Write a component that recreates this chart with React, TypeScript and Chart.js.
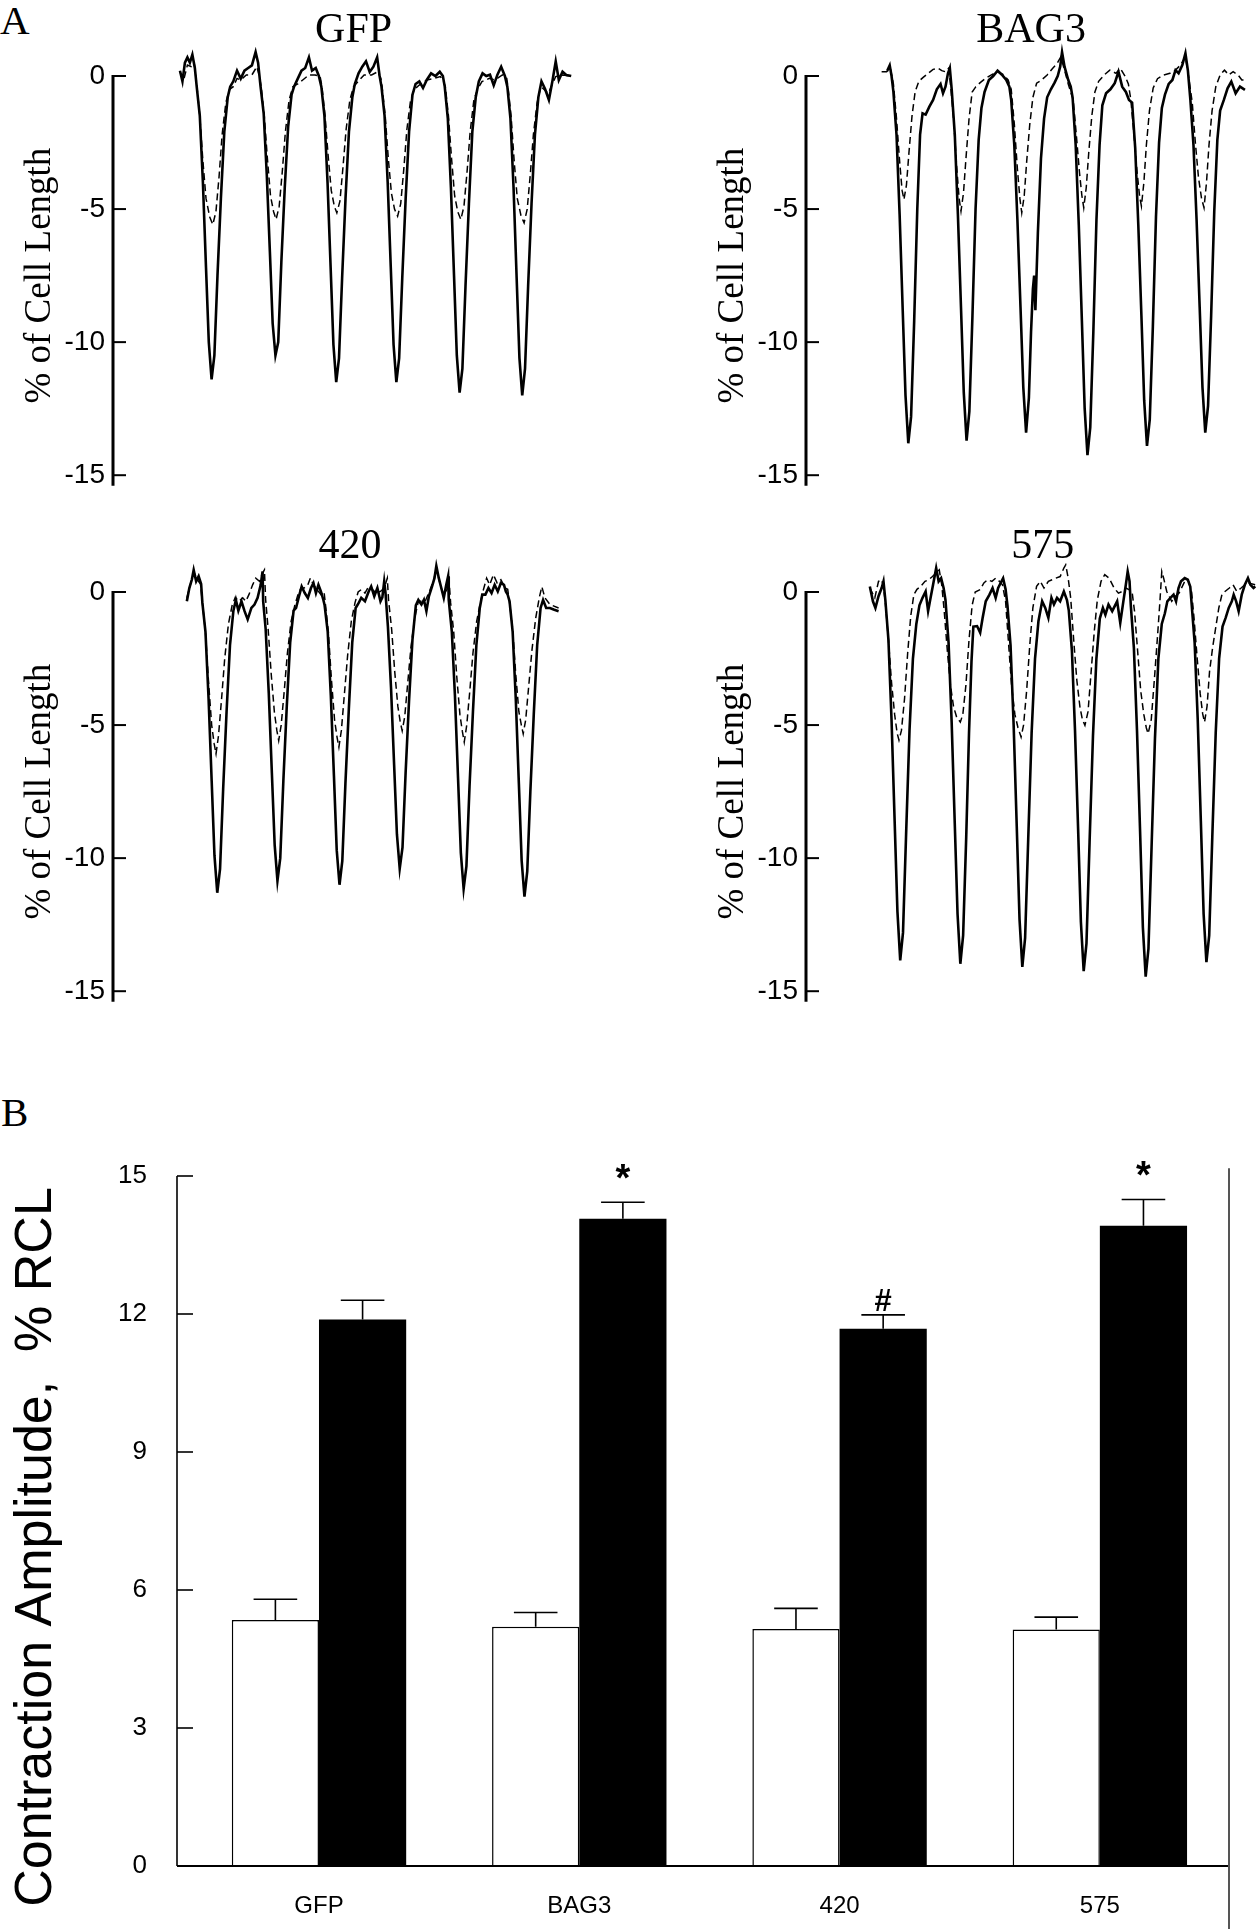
import React, { useEffect, useRef } from 'react';
import { Chart, registerables } from 'chart.js';

Chart.register(...registerables);
Chart.defaults.color = '#000';
Chart.defaults.font.family = 'Liberation Sans';

type Pair = [number, number];

// ---------------- Panel A : cell shortening traces [time (s), % of cell length] ----------------
const gfpSolid: Pair[] = [[0,0.2],[0.04,-0.2],[0.08,0.5],[0.12,0.7],[0.16,0.5],[0.2,0.8],[0.24,0.3],
[0.27,-0.4],[0.32,-1.5],[0.37,-4.0],[0.42,-7.2],[0.465,-10.0],[0.51,-11.4],[0.555,-10.5],[0.605,-7.5],[0.66,-4.6],[0.715,-2.1],[0.77,-0.8],[0.81,-0.4],
[0.86,-0.2],[0.92,0.2],[0.98,-0.1],[1.04,0.2],[1.1,0.3],[1.16,0.4],[1.22,0.9],[1.26,0.5],
[1.3,-0.4],[1.35,-1.4],[1.4,-3.7],[1.45,-6.6],[1.495,-9.3],[1.54,-10.5],[1.585,-10.0],[1.635,-7.0],[1.69,-4.2],[1.745,-1.9],[1.8,-0.7],[1.84,-0.4],
[1.9,-0.1],[1.96,0.2],[2.02,0.3],[2.08,0.7],[2.13,0.2],[2.19,0.3],[2.24,0.0],
[2.28,-0.4],[2.33,-1.5],[2.38,-4.0],[2.43,-7.2],[2.475,-10.1],[2.52,-11.5],[2.565,-10.6],[2.615,-7.6],[2.67,-4.6],[2.725,-2.1],[2.78,-0.8],[2.82,-0.3],
[2.88,0.1],[2.94,0.35],[3.0,0.55],[3.06,0.15],[3.12,0.35],[3.18,0.7],[3.22,0.0],
[3.25,-0.4],[3.3,-1.5],[3.35,-4.0],[3.4,-7.2],[3.445,-10.1],[3.49,-11.5],[3.535,-10.6],[3.585,-7.6],[3.64,-4.6],[3.695,-2.1],[3.75,-0.7],[3.8,-0.3],
[3.86,-0.2],[3.92,-0.45],[3.98,-0.15],[4.05,0.1],[4.12,0.0],[4.19,0.16],[4.24,0.0],
[4.27,-0.4],[4.32,-1.6],[4.37,-4.2],[4.42,-7.5],[4.465,-10.5],[4.51,-11.9],[4.555,-11.0],[4.605,-7.9],[4.66,-4.8],[4.715,-2.1],[4.77,-0.8],[4.82,-0.2],
[4.88,0.1],[4.94,0.0],[5.0,0.05],[5.06,-0.35],[5.12,0.05],[5.18,0.35],[5.24,0.0],
[5.28,-0.4],[5.33,-1.6],[5.38,-4.2],[5.43,-7.6],[5.475,-10.6],[5.52,-12.0],[5.565,-11.0],[5.615,-7.9],[5.67,-4.8],[5.725,-2.2],[5.78,-0.8],[5.83,-0.2],
[5.89,-0.5],[5.95,-0.9],[6.01,-0.15],[6.06,0.55],[6.11,-0.15],[6.17,0.16],[6.23,0.04],[6.31,0]];

const gfpDashed: Pair[] = [[0,0.16],[0.06,-0.15],[0.12,0.41],[0.18,0.35],[0.23,0.47],
[0.27,-0.3],[0.32,-1.5],[0.37,-3.2],[0.42,-4.6],[0.48,-5.3],[0.53,-5.58],[0.58,-5.1],[0.63,-3.8],[0.68,-2.2],[0.74,-1.0],[0.8,-0.5],[0.86,-0.4],
[0.92,-0.09],[0.98,-0.15],[1.07,0.04],[1.16,0.04],[1.24,0.35],[1.28,0.0],
[1.31,-0.4],[1.36,-1.5],[1.41,-3.1],[1.46,-4.5],[1.51,-5.1],[1.55,-5.39],[1.6,-4.9],[1.65,-3.6],[1.7,-2.1],[1.76,-0.9],[1.82,-0.4],
[1.9,-0.3],[1.98,-0.15],[2.08,0.04],[2.18,0.04],[2.26,-0.02],
[2.29,-0.4],[2.34,-1.5],[2.39,-3.0],[2.44,-4.3],[2.49,-4.9],[2.53,-5.14],[2.58,-4.7],[2.63,-3.4],[2.68,-2.0],[2.74,-0.9],[2.8,-0.4],
[2.87,-0.21],[2.97,0.04],[3.09,0.04],[3.19,0.16],[3.24,-0.09],
[3.26,-0.4],[3.31,-1.5],[3.36,-3.1],[3.41,-4.4],[3.46,-5.0],[3.51,-5.27],[3.56,-4.8],[3.61,-3.5],[3.66,-2.0],[3.72,-0.9],[3.78,-0.5],
[3.86,-0.34],[3.98,-0.15],[4.1,-0.09],[4.2,-0.02],[4.25,-0.2],
[4.28,-0.4],[4.33,-1.5],[4.38,-3.1],[4.43,-4.5],[4.48,-5.1],[4.53,-5.39],[4.58,-4.9],[4.63,-3.6],[4.68,-2.1],[4.74,-0.9],[4.8,-0.5],
[4.87,-0.21],[4.99,-0.09],[5.08,-0.15],[5.2,0.04],[5.27,-0.09],
[5.29,-0.4],[5.34,-1.5],[5.39,-3.2],[5.44,-4.6],[5.5,-5.25],[5.55,-5.52],[5.6,-5.0],[5.65,-3.7],[5.7,-2.2],[5.76,-1.0],[5.82,-0.4],
[5.94,-0.65],[6.06,-0.02],[6.18,0.04],[6.31,0]];

const bag3Solid: Pair[] = [[0.1,0.2],[0.14,0.4],[0.17,0.0],
[0.2,-0.6],[0.25,-2.2],[0.3,-5.2],[0.35,-8.8],[0.395,-12.0],[0.44,-13.8],[0.485,-12.8],[0.535,-9.2],[0.585,-5.0],[0.63,-2.2],[0.67,-1.4],
[0.72,-1.45],[0.78,-1.15],[0.84,-0.9],[0.9,-0.5],[0.96,-0.3],[1.0,-0.65],[1.04,-0.4],[1.08,0.1],[1.11,0.3],
[1.14,-0.5],[1.19,-2.2],[1.24,-5.2],[1.29,-8.7],[1.335,-11.9],[1.38,-13.7],[1.425,-12.6],[1.475,-9.0],[1.525,-5.0],[1.575,-2.4],[1.62,-1.2],[1.67,-0.6],
[1.74,-0.15],[1.81,0.0],[1.88,0.2],[1.95,0.05],[2.02,-0.15],[2.07,-0.4],
[2.1,-0.9],[2.15,-2.6],[2.2,-5.4],[2.25,-8.7],[2.295,-11.7],[2.34,-13.4],[2.385,-12.1],[2.42,-9.6],[2.45,-8.0],[2.47,-7.5],[2.49,-8.8],[2.53,-5.9],[2.58,-3.1],[2.63,-1.6],[2.68,-0.8],
[2.74,-0.5],[2.8,-0.25],[2.85,0.0],[2.89,0.35],[2.92,0.9],[2.96,0.35],[3.02,-0.15],[3.06,-0.4],
[3.09,-0.8],[3.14,-2.6],[3.19,-5.6],[3.24,-9.2],[3.285,-12.5],[3.33,-14.25],[3.375,-13.2],[3.425,-9.6],[3.475,-5.4],[3.525,-2.6],[3.57,-1.1],
[3.63,-0.65],[3.7,-0.5],[3.77,-0.27],[3.83,0.16],[3.89,-0.4],[3.95,-0.6],[4.0,-0.9],
[4.05,-1.0],[4.1,-2.7],[4.15,-5.6],[4.2,-9.0],[4.245,-12.2],[4.29,-13.9],[4.335,-12.9],[4.385,-9.4],[4.435,-5.3],[4.485,-2.5],[4.53,-1.2],[4.58,-0.7],
[4.64,-0.3],[4.7,-0.15],[4.75,0.22],[4.8,0.1],[4.86,0.41],[4.91,0.85],[4.95,0.2],
[4.99,-0.9],[5.04,-2.6],[5.09,-5.4],[5.14,-8.7],[5.185,-11.7],[5.23,-13.4],[5.275,-12.4],[5.325,-9.0],[5.375,-5.1],[5.425,-2.4],[5.47,-1.3],
[5.53,-0.9],[5.59,-0.46],[5.65,-0.21],[5.72,-0.65],[5.79,-0.4],[5.87,-0.52]];

const bag3Dashed: Pair[] = [[0.01,0.16],[0.09,0.16],[0.15,0.29],
[0.2,-0.3],[0.25,-1.6],[0.3,-3.2],[0.34,-4.3],[0.37,-4.64],[0.41,-4.1],[0.45,-2.9],[0.5,-1.5],[0.55,-0.6],[0.61,-0.2],
[0.68,-0.05],[0.76,0.1],[0.84,0.25],[0.92,0.29],[0.98,0.2],[1.04,0.16],[1.09,0.29],
[1.12,-0.3],[1.17,-1.6],[1.22,-3.4],[1.26,-4.6],[1.29,-5.08],[1.33,-4.4],[1.37,-3.1],[1.42,-1.6],[1.47,-0.6],[1.53,-0.4],
[1.6,-0.25],[1.68,-0.1],[1.78,0.04],[1.88,0.16],[1.98,0.04],[2.05,-0.15],
[2.1,-0.5],[2.15,-1.8],[2.2,-3.5],[2.24,-4.6],[2.27,-5.14],[2.31,-4.5],[2.35,-3.2],[2.4,-1.8],[2.45,-0.8],[2.51,-0.27],
[2.59,-0.15],[2.68,0.04],[2.77,0.29],[2.84,0.47],[2.9,0.72],[2.96,0.22],[3.02,-0.3],
[3.1,-0.9],[3.15,-2.2],[3.2,-3.6],[3.24,-4.5],[3.27,-4.95],[3.31,-4.2],[3.35,-2.9],[3.4,-1.5],[3.45,-0.6],[3.51,-0.2],
[3.6,0.04],[3.69,0.22],[3.79,0.1],[3.86,0.29],[3.94,-0.02],[3.99,-0.3],
[4.03,-0.9],[4.08,-2.2],[4.13,-3.6],[4.17,-4.5],[4.2,-4.89],[4.24,-4.0],[4.28,-2.6],[4.33,-1.3],[4.39,-0.45],[4.46,-0.1],
[4.56,0.04],[4.66,0.1],[4.75,0.22],[4.83,0.41],[4.91,0.72],[4.96,0.0],
[5.02,-1.0],[5.07,-2.5],[5.12,-3.8],[5.17,-4.6],[5.21,-4.95],[5.25,-4.0],[5.29,-2.6],[5.34,-1.3],[5.4,-0.4],[5.47,0.04],
[5.54,0.22],[5.61,0.04],[5.68,0.16],[5.76,0.04],[5.82,-0.15],[5.87,-0.15]];

const c420Solid: Pair[] = [[0,-0.35],[0.04,0.15],[0.08,0.46],[0.11,0.83],[0.15,0.4],[0.19,0.59],[0.23,0.3],
[0.25,-0.4],[0.3,-1.5],[0.35,-4.0],[0.4,-7.1],[0.445,-9.9],[0.49,-11.3],[0.535,-10.4],[0.585,-7.4],[0.64,-4.5],[0.695,-2.0],[0.75,-0.7],[0.79,-0.3],
[0.83,-0.7],[0.88,-0.35],[0.93,-0.72],[0.98,-1.03],[1.04,-0.6],[1.09,-0.47],[1.14,-0.22],[1.19,0.27],[1.22,0.77],
[1.23,-0.35],[1.27,-1.4],[1.32,-3.8],[1.37,-6.8],[1.415,-9.5],[1.46,-10.85],[1.505,-10.0],[1.555,-7.1],[1.61,-4.3],[1.665,-1.9],[1.72,-0.7],[1.76,-0.6],
[1.8,-0.22],[1.85,0.21],[1.9,-0.04],[1.95,-0.22],[2.0,0.15],[2.04,0.34],[2.08,-0.04],[2.12,0.27],[2.16,0.02],[2.2,-0.3],
[2.22,-0.5],[2.27,-1.5],[2.32,-3.9],[2.37,-6.9],[2.415,-9.7],[2.46,-11.0],[2.505,-10.1],[2.555,-7.2],[2.61,-4.4],[2.665,-1.9],[2.72,-0.6],[2.76,-0.45],
[2.81,-0.22],[2.87,-0.35],[2.93,0.02],[2.97,0.21],[3.02,-0.16],[3.07,0.15],[3.12,-0.35],[3.15,-0.2],[3.18,0.4],
[3.2,0.0],[3.24,-1.3],[3.29,-3.6],[3.34,-6.5],[3.385,-9.1],[3.43,-10.4],[3.475,-9.6],[3.525,-6.8],[3.58,-4.1],[3.635,-1.8],[3.69,-0.5],[3.73,-0.3],
[3.78,-0.47],[3.82,-0.29],[3.86,-0.72],[3.9,-0.16],[3.95,0.2],[3.99,0.52],[4.02,0.98],[4.06,0.52],[4.1,0.15],[4.14,-0.22],[4.18,0.27],[4.21,0.59],
[4.22,-0.3],[4.27,-1.5],[4.32,-3.9],[4.37,-7.0],[4.415,-9.8],[4.46,-11.15],[4.505,-10.3],[4.555,-7.3],[4.61,-4.5],[4.665,-2.0],[4.72,-0.6],[4.76,-0.1],
[4.81,-0.1],[4.86,0.15],[4.91,-0.04],[4.96,0.27],[5.01,0.02],[5.06,0.34],[5.11,0.27],[5.14,0.02],[5.17,-0.1],
[5.2,-0.35],[5.25,-1.5],[5.3,-4.0],[5.35,-7.2],[5.395,-10.1],[5.44,-11.45],[5.485,-10.5],[5.535,-7.5],[5.59,-4.6],[5.645,-2.0],[5.7,-0.6],[5.74,-0.3],
[5.79,-0.6],[5.85,-0.6],[5.91,-0.66],[5.99,-0.72]];

const c420Dashed: Pair[] = [[0,-0.22],[0.07,0.4],[0.12,0.71],[0.17,0.46],[0.22,0.3],
[0.25,-0.4],[0.3,-1.5],[0.35,-3.4],[0.4,-5.0],[0.44,-5.7],[0.47,-6.08],[0.51,-5.4],[0.56,-4.0],[0.61,-2.5],[0.67,-1.2],[0.73,-0.5],[0.78,-0.2],
[0.84,-0.35],[0.9,-0.22],[0.95,-0.35],[1.0,-0.1],[1.06,0.27],[1.11,0.52],[1.17,0.4],[1.22,0.71],[1.25,0.83],
[1.27,-0.3],[1.31,-1.4],[1.36,-3.1],[1.41,-4.5],[1.45,-5.2],[1.48,-5.58],[1.52,-5.0],[1.57,-3.7],[1.62,-2.3],[1.68,-1.1],[1.74,-0.5],[1.79,-0.1],
[1.84,0.15],[1.89,0.15],[1.95,0.27],[1.99,0.52],[2.04,0.27],[2.1,0.09],[2.16,-0.1],[2.21,0.02],
[2.23,-0.4],[2.28,-1.5],[2.33,-3.3],[2.38,-4.8],[2.42,-5.45],[2.45,-5.83],[2.49,-5.2],[2.54,-3.8],[2.59,-2.4],[2.65,-1.1],[2.71,-0.4],[2.76,0.0],
[2.81,0.09],[2.87,-0.04],[2.93,0.21],[2.99,0.09],[3.05,-0.04],[3.12,0.02],[3.18,0.15],[3.23,0.52],
[3.25,-0.3],[3.3,-1.4],[3.35,-3.0],[3.4,-4.3],[3.44,-4.9],[3.47,-5.21],[3.51,-4.7],[3.56,-3.4],[3.61,-2.1],[3.67,-1.0],[3.73,-0.35],[3.78,-0.35],
[3.84,-0.35],[3.92,0.09],[3.98,0.46],[4.02,0.9],[4.07,0.4],[4.13,-0.1],[4.19,0.09],[4.23,0.27],
[4.25,-0.4],[4.3,-1.5],[4.35,-3.2],[4.4,-4.6],[4.44,-5.25],[4.47,-5.64],[4.51,-5.0],[4.56,-3.7],[4.61,-2.3],[4.67,-1.1],[4.73,-0.4],[4.78,0.1],
[4.83,0.52],[4.88,0.27],[4.94,0.65],[5.0,0.34],[5.06,0.46],[5.13,0.15],[5.17,0.1],
[5.2,-0.4],[5.25,-1.4],[5.3,-3.1],[5.35,-4.5],[5.39,-5.0],[5.42,-5.33],[5.46,-4.8],[5.51,-3.5],[5.56,-2.2],[5.62,-1.0],[5.68,-0.2],[5.72,0.2],
[5.77,-0.22],[5.85,-0.47],[5.99,-0.6]];

const c575Solid: Pair[] = [[0,0.21],[0.05,-0.35],[0.09,-0.6],[0.14,-0.16],[0.19,0.15],[0.22,0.4],
[0.25,-0.3],[0.3,-1.8],[0.35,-4.8],[0.4,-8.6],[0.445,-12.0],[0.49,-13.84],[0.535,-12.8],[0.585,-9.1],[0.64,-5.2],[0.695,-2.5],[0.75,-1.2],[0.8,-0.5],
[0.85,-0.22],[0.9,0.02],[0.94,-0.72],[0.98,-0.22],[1.02,0.27],[1.07,0.9],[1.11,0.4],[1.15,0.52],[1.19,0.15],
[1.22,-0.3],[1.27,-1.9],[1.32,-4.9],[1.37,-8.7],[1.415,-12.1],[1.46,-13.97],[1.505,-12.9],[1.555,-9.2],[1.6,-5.3],[1.64,-2.6],[1.67,-1.3],
[1.73,-1.28],[1.78,-1.53],[1.82,-0.97],[1.87,-0.35],[1.93,-0.1],[1.98,0.15],[2.03,-0.22],[2.07,0.15],[2.11,0.34],[2.15,0.52],[2.19,0.1],
[2.22,-0.5],[2.27,-2.0],[2.32,-5.0],[2.37,-8.8],[2.415,-12.3],[2.46,-14.09],[2.505,-13.0],[2.555,-9.3],[2.61,-5.3],[2.665,-2.5],[2.72,-1.1],
[2.78,-0.35],[2.83,-0.6],[2.88,-0.97],[2.93,-0.22],[2.97,-0.47],[3.02,-0.22],[3.07,-0.35],[3.13,0.02],[3.18,-0.3],
[3.21,-0.7],[3.26,-2.2],[3.31,-5.2],[3.36,-8.9],[3.405,-12.4],[3.45,-14.25],[3.495,-13.2],[3.545,-9.4],[3.6,-5.4],[3.655,-2.5],[3.71,-1.0],
[3.76,-0.6],[3.8,-0.85],[3.85,-0.47],[3.91,-0.72],[3.99,-0.35],[4.04,-1.16],[4.09,-0.35],[4.13,0.27],[4.16,0.77],[4.19,0.4],
[4.21,-0.5],[4.26,-2.1],[4.31,-5.2],[4.36,-9.0],[4.405,-12.6],[4.45,-14.45],[4.495,-13.4],[4.545,-9.6],[4.6,-5.5],[4.655,-2.5],[4.71,-1.2],
[4.76,-0.8],[4.8,-0.35],[4.85,-0.22],[4.9,-0.1],[4.94,-0.35],[4.98,0.15],[5.02,0.4],[5.08,0.52],[5.13,0.46],[5.17,0.2],
[5.19,-0.4],[5.24,-1.9],[5.29,-4.8],[5.34,-8.6],[5.385,-12.1],[5.43,-13.91],[5.475,-12.9],[5.525,-9.2],[5.58,-5.3],[5.635,-2.5],[5.69,-1.3],
[5.74,-0.97],[5.79,-0.6],[5.84,-0.35],[5.87,-0.1],[5.91,-0.35],[5.95,-0.72],[6.0,-0.1],[6.05,0.27],[6.1,0.52],[6.14,0.27],[6.19,0.15],[6.22,0.21]];

const c575Dashed: Pair[] = [[0,0.15],[0.08,-0.22],[0.14,0.4],[0.19,0.46],[0.22,0.2],
[0.25,-0.4],[0.3,-1.8],[0.35,-3.4],[0.4,-4.6],[0.44,-5.3],[0.47,-5.57],[0.51,-5.2],[0.56,-4.0],[0.61,-2.3],[0.66,-0.9],[0.71,-0.1],[0.76,0.1],
[0.82,0.21],[0.89,0.4],[0.95,0.46],[1.01,0.58],[1.07,0.71],[1.12,0.83],[1.16,0.27],
[1.2,-0.72],[1.25,-2.2],[1.3,-3.5],[1.35,-4.3],[1.4,-4.7],[1.46,-4.89],[1.5,-4.6],[1.55,-3.5],[1.6,-1.8],[1.65,-0.5],[1.7,0.0],
[1.78,0.09],[1.84,0.34],[1.9,0.46],[1.97,0.4],[2.03,0.52],[2.09,0.4],[2.14,0.27],
[2.19,-0.35],[2.24,-2.0],[2.29,-3.6],[2.34,-4.6],[2.39,-5.1],[2.44,-5.45],[2.48,-5.0],[2.53,-3.7],[2.58,-2.0],[2.63,-0.6],[2.69,0.21],
[2.75,0.4],[2.81,0.15],[2.88,0.4],[2.94,0.46],[3.0,0.52],[3.07,0.58],[3.13,0.9],[3.16,1.02],[3.2,0.52],
[3.24,-0.22],[3.29,-1.84],[3.34,-3.33],[3.39,-4.33],[3.43,-4.8],[3.47,-5.01],[3.52,-4.5],[3.57,-3.0],[3.62,-1.5],[3.67,-0.3],[3.73,0.4],
[3.79,0.65],[3.86,0.52],[3.94,0.15],[4.01,-0.04],[4.07,0.02],[4.13,0.15],[4.18,0.09],[4.23,0.02],
[4.27,-0.72],[4.32,-2.21],[4.37,-3.71],[4.42,-4.6],[4.46,-5.1],[4.49,-5.32],[4.54,-4.8],[4.59,-3.3],[4.64,-1.7],[4.68,-0.35],[4.71,0.77],[4.74,0.52],
[4.79,0.02],[4.87,-0.35],[4.93,-0.16],[4.99,-0.04],[5.08,0.4],[5.14,0.4],[5.19,0.02],
[5.23,-0.97],[5.28,-2.46],[5.33,-3.83],[5.37,-4.58],[5.4,-4.89],[5.44,-4.3],[5.48,-3.0],[5.53,-2.09],[5.58,-1.34],[5.63,-0.6],[5.68,-0.1],
[5.73,0.02],[5.8,0.15],[5.86,0.27],[5.92,0.02],[5.99,0.15],[6.05,0.27],[6.11,0.34],[6.22,0.27]];

const traceTicks = [0, -5, -10, -15];
const traceAxisEnd = -15.4;

// ---------------- Panel B : contraction amplitude (% RCL) ----------------
const categories = ['GFP', 'BAG3', '420', '575'];
const basalValues = [5.35, 5.2, 5.15, 5.14];
const basalErrors = [0.45, 0.31, 0.45, 0.27];
const stimValues = [11.88, 14.07, 11.68, 13.92];
const stimErrors = [0.42, 0.36, 0.3, 0.57];
const stimMarks = ['', '*', '#', '*'];
const barTicks = [0, 3, 6, 9, 12, 15];

const toPoints = (p: Pair[]) => p.map(([x, y]) => ({ x, y }));

const traceDecorPlugin = {
  id: 'traceDecor',
  afterDraw(chart: any, _args: any, opts: any) {
    const { ctx, chartArea, scales } = chart;
    const y = scales.y;
    const x = scales.x;
    const x0 = chartArea.left;
    ctx.save();
    ctx.strokeStyle = '#000';
    ctx.lineWidth = 3;
    ctx.beginPath();
    ctx.moveTo(x0, y.getPixelForValue(0) - 1);
    ctx.lineTo(x0, y.getPixelForValue(traceAxisEnd));
    ctx.stroke();
    ctx.lineWidth = 2;
    for (const v of traceTicks) {
      const py = y.getPixelForValue(v);
      ctx.beginPath();
      ctx.moveTo(x0, py);
      ctx.lineTo(x0 + 13, py);
      ctx.stroke();
    }
    // panel title
    ctx.fillStyle = '#000';
    ctx.font = '42px "Liberation Serif"';
    ctx.textAlign = 'center';
    ctx.textBaseline = 'alphabetic';
    ctx.fillText(opts.text, x.getPixelForValue(opts.at), y.getPixelForValue(0) - 34);
    ctx.restore();
  },
};

interface TraceProps {
  title: string;
  titleAt: number;
  solid: Pair[];
  dashed: Pair[];
  left: number;
  top: number;
  width: number;
  height: number;
  xMin: number;
  xMax: number;
  padRight: number;
}

function TracePanel(p: TraceProps) {
  const ref = useRef<HTMLCanvasElement>(null);
  useEffect(() => {
    const chart = new Chart(ref.current as HTMLCanvasElement, {
      type: 'line',
      data: {
        datasets: [
          { label: 'dashed', data: toPoints(p.dashed), borderColor: '#000', borderWidth: 1.5, borderDash: [7, 4], pointRadius: 0, tension: 0, fill: false, clip: false } as any,
          { label: 'solid', data: toPoints(p.solid), borderColor: '#000', borderWidth: 2.6, pointRadius: 0, tension: 0, fill: false, clip: false } as any,
        ],
      },
      options: {
        animation: false,
        responsive: false,
        devicePixelRatio: 1,
        events: [],
        layout: { padding: { left: 0, right: p.padRight, top: 76, bottom: p.height - 477 } },
        plugins: {
          legend: { display: false },
          tooltip: { enabled: false },
          title: { display: false },
          traceDecor: { text: p.title, at: p.titleAt },
        },
        scales: {
          x: { type: 'linear', display: false, min: p.xMin, max: p.xMax },
          y: {
            type: 'linear',
            min: -15,
            max: 0,
            afterFit: (s: any) => { s.width = 113; },
            afterBuildTicks: (s: any) => { s.ticks = traceTicks.map((v) => ({ value: v })); },
            grid: { display: false, drawTicks: false },
            border: { display: false },
            ticks: { padding: 8, color: '#000', font: { family: 'Liberation Sans', size: 28 } },
            title: {
              display: true,
              text: '% of Cell Length',
              color: '#000',
              font: { family: 'Liberation Serif', size: 37 },
              padding: { top: 18, bottom: 0 },
            },
          },
        },
      } as any,
      plugins: [traceDecorPlugin],
    });
    return () => chart.destroy();
  }, []);
  return (
    <canvas
      ref={ref}
      width={p.width}
      height={p.height}
      style={{ position: 'absolute', left: p.left, top: p.top, width: p.width, height: p.height }}
    />
  );
}

const barDecorPlugin = {
  id: 'barDecor',
  afterDraw(chart: any) {
    const { ctx, chartArea, scales } = chart;
    const y = scales.y;
    const vals = [basalValues, stimValues];
    const errs = [basalErrors, stimErrors];
    ctx.save();
    ctx.strokeStyle = '#000';
    ctx.fillStyle = '#000';
    ctx.lineWidth = 1.6;
    [0, 1].forEach((d) => {
      const meta = chart.getDatasetMeta(d);
      meta.data.forEach((bar: any, i: number) => {
        const base = y.getPixelForValue(vals[d][i]);
        const top = y.getPixelForValue(vals[d][i] + errs[d][i]);
        const half = bar.width / 4;
        ctx.beginPath();
        ctx.moveTo(bar.x, base);
        ctx.lineTo(bar.x, top);
        ctx.moveTo(bar.x - half, top);
        ctx.lineTo(bar.x + half, top);
        ctx.stroke();
        if (d === 1 && stimMarks[i]) {
          const m = stimMarks[i];
          ctx.textAlign = 'center';
          ctx.textBaseline = 'alphabetic';
          if (m === '*') {
            ctx.font = 'bold 38px "Liberation Sans"';
            ctx.fillText(m, bar.x, top - 11);
          } else {
            ctx.font = 'bold 31px "Liberation Sans"';
            ctx.fillText(m, bar.x, top - 4);
          }
        }
      });
    });
    // y axis with inward ticks
    const x0 = chartArea.left;
    ctx.lineWidth = 1.6;
    ctx.beginPath();
    ctx.moveTo(x0, y.getPixelForValue(15));
    ctx.lineTo(x0, y.getPixelForValue(0));
    ctx.stroke();
    for (const v of barTicks) {
      const py = y.getPixelForValue(v);
      ctx.beginPath();
      ctx.moveTo(x0, py);
      ctx.lineTo(x0 + 16, py);
      ctx.stroke();
    }
    // x axis
    ctx.lineWidth = 2.2;
    ctx.beginPath();
    ctx.moveTo(x0, y.getPixelForValue(0));
    ctx.lineTo(chartArea.right - 1, y.getPixelForValue(0));
    ctx.stroke();
    // right frame line
    ctx.strokeStyle = '#555';
    ctx.lineWidth = 2;
    ctx.beginPath();
    ctx.moveTo(chartArea.right - 1, y.getPixelForValue(15.17));
    ctx.lineTo(chartArea.right - 1, chart.height);
    ctx.stroke();
    // y axis title
    ctx.fillStyle = '#000';
    ctx.font = '52px "Liberation Sans"';
    ctx.textAlign = 'center';
    ctx.textBaseline = 'middle';
    ctx.translate(37, (chartArea.top + chartArea.bottom) / 2 + 26);
    ctx.rotate(-Math.PI / 2);
    ctx.fillText('Contraction Amplitude,  % RCL', 0, 0);
    ctx.restore();
  },
};

function BarPanel() {
  const ref = useRef<HTMLCanvasElement>(null);
  useEffect(() => {
    const chart = new Chart(ref.current as HTMLCanvasElement, {
      type: 'bar',
      data: {
        datasets: [
          {
            label: 'Basal',
            data: categories.map((_, i) => ({ x: i + 1, y: basalValues[i] })),
            backgroundColor: '#fff',
            borderColor: '#000',
            borderWidth: 1.5,
            borderSkipped: 'bottom',
            categoryPercentage: 0.67,
            barPercentage: 1,
          } as any,
          {
            label: 'Stimulated',
            data: categories.map((_, i) => ({ x: i + 1, y: stimValues[i] })),
            backgroundColor: '#000',
            borderColor: '#000',
            borderWidth: 0,
            categoryPercentage: 0.67,
            barPercentage: 1,
          } as any,
        ],
      },
      options: {
        animation: false,
        responsive: false,
        devicePixelRatio: 1,
        events: [],
        layout: { padding: { left: 0, right: 26, top: 96, bottom: 0 } },
        plugins: { legend: { display: false }, tooltip: { enabled: false }, title: { display: false } },
        scales: {
          x: {
            type: 'linear',
            offset: false,
            min: 0.4545,
            max: 4.5,
            afterFit: (s: any) => { s.height = 63; },
            afterBuildTicks: (s: any) => { s.ticks = categories.map((_, i) => ({ value: i + 1 })); },
            grid: { display: false, drawTicks: false },
            border: { display: false },
            ticks: {
              padding: 26,
              color: '#000',
              font: { family: 'Liberation Sans', size: 24 },
              callback: (v: any) => categories[Math.round(v) - 1],
            },
          },
          y: {
            type: 'linear',
            min: 0,
            max: 15,
            afterFit: (s: any) => { s.width = 177; },
            afterBuildTicks: (s: any) => { s.ticks = barTicks.map((v) => ({ value: v })); },
            grid: { display: false, drawTicks: false },
            border: { display: false },
            ticks: { padding: 30, color: '#000', font: { family: 'Liberation Sans', size: 26 } },
            title: { display: false },
          },
        },
      } as any,
      plugins: [barDecorPlugin],
    });
    return () => chart.destroy();
  }, []);
  return (
    <canvas
      ref={ref}
      width={1256}
      height={849}
      style={{ position: 'absolute', left: 0, top: 1080, width: 1256, height: 849 }}
    />
  );
}

const letterStyle: React.CSSProperties = {
  position: 'absolute',
  fontFamily: '"Liberation Serif", serif',
  fontSize: 41,
  lineHeight: '41px',
  color: '#000',
};

export default function App() {
  return (
    <div style={{ position: 'absolute', left: 0, top: 0, width: 1256, height: 1929, background: '#fff', overflow: 'hidden' }}>
      <div style={{ ...letterStyle, left: 0, top: 0 }}>A</div>
      <TracePanel title="GFP" titleAt={2.8} solid={gfpSolid} dashed={gfpDashed} left={0} top={0} width={600} height={500} xMin={-1.08} xMax={6.5} padRight={17} />
      <TracePanel title="BAG3" titleAt={2.42} solid={bag3Solid} dashed={bag3Dashed} left={693} top={0} width={563} height={500} xMin={-1.21} xMax={6.0} padRight={3} />
      <TracePanel title="420" titleAt={2.63} solid={c420Solid} dashed={c420Dashed} left={0} top={516} width={600} height={500} xMin={-1.19} xMax={6.19} padRight={29} />
      <TracePanel title="575" titleAt={2.79} solid={c575Solid} dashed={c575Dashed} left={693} top={516} width={563} height={500} xMin={-1.03} xMax={6.23} padRight={0} />
      <div style={{ ...letterStyle, left: 1, top: 1092 }}>B</div>
      <BarPanel />
    </div>
  );
}
